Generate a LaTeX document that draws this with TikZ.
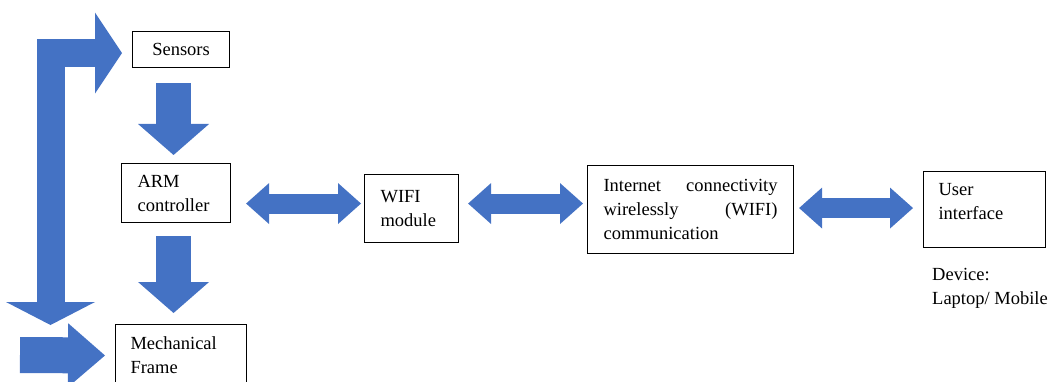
\documentclass[tikz,border=0pt]{standalone}
\usepackage{fontspec}
\setmainfont{Liberation Serif}
\usetikzlibrary{arrows.meta,calc}
\definecolor{arrowblue}{HTML}{4472C4}
\newcommand{\fillgap}{\hskip 0pt plus 1fill\relax}
\begin{document}
\begin{tikzpicture}[x=1pt,y=-1pt,
  box/.style={draw=black, line width=1.1pt, fill=white, inner ysep=0pt,
    align=left, anchor=north west, font=\fontsize{18.5}{24}\selectfont},
  bar/.style={draw=arrowblue, line cap=butt, line join=miter},
  downarrow/.style={bar, line width=35pt,
    -{Triangle[width=71pt,length=31pt,line width=0pt]}},
  sidearrow/.style={bar, line width=20pt,
    {Triangle[width=41pt,length=23pt,line width=0pt]}-{Triangle[width=41pt,length=23pt,line width=0pt]}},
  looparrow/.style={bar, line width=28pt,
    {Triangle[width=89pt,length=23pt,line width=0pt]}-{Triangle[width=81pt,length=27pt,line width=0pt]}},
  feedarrow/.style={bar, line width=36pt,
    -{Triangle[width=64pt,length=37pt,line width=0pt]}}]
\useasboundingbox (0,0) rectangle (1054,382);
\clip (0,0) rectangle (1054,382);

% blocks
\node[box, minimum width=97pt, minimum height=36pt, inner xsep=0pt] (sensors) at (132,31) {Sensors};
\node[box, text width=77pt, inner xsep=16pt, minimum height=59pt] (arm) at (121,163) {ARM\\controller};
\node[box, text width=62pt, inner xsep=16pt, minimum height=68pt] (wifi) at (364,174) {WIFI\\module};
\node[box, text width=174pt, inner xsep=16pt, minimum height=88pt] (inet) at (587,165)
  {Internet\fillgap connectivity\\wirelessly\fillgap (WIFI)\\communication};
\node[box, text width=92pt, inner xsep=15pt, minimum height=76pt] (user) at (923,171)
  {User\\interface\\[-8pt]\mbox{}};
\node[box, text width=101pt, inner xsep=15pt, minimum height=62pt] (mech) at (115,324) {Mechanical\\Frame};
\node[align=left, anchor=north west, inner sep=0pt, font=\fontsize{18.5}{24}\selectfont] (device) at (932,268)
  {Device:\\Laptop/ Mobile};

% free ends of the outer loop and the feed arrow
\coordinate (loopend) at (50.5,325);
\coordinate (feed) at (20,355);

% vertical flow
\draw[downarrow, shorten <=15pt, shorten >=8pt] ([xshift=-7.5pt]sensors.south) -- ([xshift=-2.5pt]arm.north);
\draw[downarrow, shorten <=13pt, shorten >=11pt] ([xshift=-2.5pt]arm.south) -- ([xshift=-2.5pt]arm.south |- mech.north);

% horizontal links
\draw[sidearrow, shorten <=15pt, shorten >=3pt] ([yshift=5pt]arm.east |- wifi.west) -- ([yshift=5pt]wifi.west);
\draw[sidearrow, shorten <=9pt, shorten >=4pt] ([yshift=5pt]wifi.east) -- ([yshift=5pt]wifi.east -| inet.west);
\draw[sidearrow, shorten <=5pt, shorten >=10pt] ([yshift=1.5pt]inet.east) -- ([yshift=1.5pt]inet.east -| user.west);

% outer loop back to the sensors and feed into the frame
\draw[looparrow, shorten >=10pt] (loopend) |- ([yshift=-3.5pt]sensors.west);
\draw[feedarrow, shorten >=10pt] (feed) -- (mech.west);
\end{tikzpicture}
\end{document}
